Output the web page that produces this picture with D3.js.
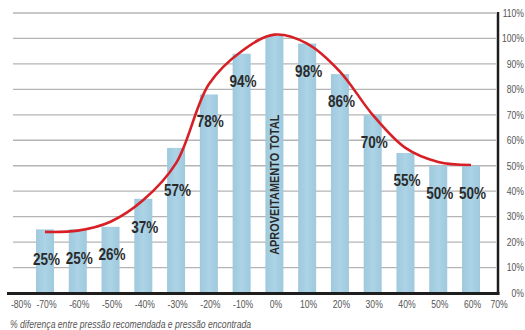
<!DOCTYPE html>
<html>
<head>
<meta charset="utf-8">
<script src="https://cdn.jsdelivr.net/npm/d3@7"></script>
<style>
  html, body { margin: 0; padding: 0; background: #fff; }
  svg { display: block; }
  text { font-family: "Liberation Sans", Arial, sans-serif; }
</style>
</head>
<body>
<svg id="chart" width="525" height="330"></svg>
<script>
// ---- data ----
const categories = [-70, -60, -50, -40, -30, -20, -10, 0, 10, 20, 30, 40, 50, 60];
const barValues  = [25, 25, 26, 37, 57, 78, 94, 101, 98, 86, 70, 55, 50, 50];
const barLabels  = ["25%", "25%", "26%", "37%", "57%", "78%", "94%", "", "98%", "86%", "70%", "55%", "50%", "50%"];
const curveValues = [24, 24.5, 28, 36.5, 51, 82, 95, 101.5, 98, 87, 70, 57, 51.5, 50.3];
const xTicks = [-80, -70, -60, -50, -40, -30, -20, -10, 0, 10, 20, 30, 40, 50, 60, 70];
const yTicks = [0, 10, 20, 30, 40, 50, 60, 70, 80, 90, 100, 110];
const specialLabel = "APROVEITAMENTO TOTAL";
const axisTitle = "% diferença entre pressão recomendada e pressão encontrada";

// ---- layout ----
const svg = d3.select("#chart");
const y = d3.scaleLinear().domain([0, 110]).range([293, 13]);
const x = d3.scaleLinear().domain([-80, -70, 60, 70]).range([19.5, 45, 471, 497.5]);
const barW = 18;
const squeeze = 0.82;   // condensed look
const fmt = d => d + "%";

// bar gradient
const defs = svg.append("defs");
const grad = defs.append("linearGradient").attr("id", "barGrad").attr("x1", "0").attr("x2", "1").attr("y1", "0").attr("y2", "0");
grad.append("stop").attr("offset", "0%").attr("stop-color", "#9fc9dd");
grad.append("stop").attr("offset", "50%").attr("stop-color", "#acd3e6");
grad.append("stop").attr("offset", "100%").attr("stop-color", "#9fc9dd");

// gridlines
svg.append("g").selectAll("line").data(yTicks.filter(d => d > 0)).join("line")
  .attr("x1", 13).attr("x2", 496)
  .attr("y1", d => y(d)).attr("y2", d => y(d))
  .attr("stroke", "#b4b4b4").attr("stroke-width", 1.3);

// bars
svg.append("g").selectAll("rect").data(categories).join("rect")
  .attr("x", (d) => x(d) - barW / 2)
  .attr("width", barW)
  .attr("y", (d, i) => y(barValues[i]))
  .attr("height", (d, i) => y(0) - y(barValues[i]))
  .attr("fill", "url(#barGrad)");

// curve
const line = d3.line()
  .x((d, i) => x(categories[i]))
  .y(d => y(d))
  .curve(d3.curveCatmullRom.alpha(0.5));
svg.append("path").datum(curveValues)
  .attr("d", line)
  .attr("fill", "none")
  .attr("stroke", "#d71f26")
  .attr("stroke-width", 2.6);

// baseline and right axis line
svg.append("line").attr("x1", 7).attr("x2", 499.5).attr("y1", y(0) + 0.5).attr("y2", y(0) + 0.5)
  .attr("stroke", "#1e1e1e").attr("stroke-width", 3);
svg.append("line").attr("x1", 498).attr("x2", 498).attr("y1", y(110) - 1).attr("y2", y(0) + 1)
  .attr("stroke", "#1e1e1e").attr("stroke-width", 2.5);

// value labels
svg.append("g").selectAll("text").data(categories).join("text")
  .attr("transform", (d, i) => `translate(${x(d) + 1.5},${y(Math.min(barValues[i], curveValues[i])) + 33}) scale(${squeeze},1)`)
  .attr("text-anchor", "middle")
  .attr("font-size", 16.5)
  .attr("font-weight", "bold")
  .attr("fill", "#2a2a2a")
  .text((d, i) => barLabels[i]);

// special rotated label in 0% bar
svg.append("text")
  .attr("transform", `translate(${x(0) + 5},${y(15)}) rotate(-90) scale(${squeeze},1)`)
  .attr("text-anchor", "start")
  .attr("font-size", 13.3)
  .attr("font-weight", "bold")
  .attr("fill", "#2a2a2a")
  .text(specialLabel);

// x tick labels
svg.append("g").selectAll("text").data(xTicks).join("text")
  .attr("transform", d => `translate(${x(d) + 1.5},308) scale(${squeeze},1)`)
  .attr("text-anchor", "middle")
  .attr("font-size", 10.5)
  .attr("fill", "#555")
  .text(fmt);

// y tick labels (right)
svg.append("g").selectAll("text").data(yTicks).join("text")
  .attr("transform", d => `translate(524,${y(d) + 3.8}) scale(${squeeze},1)`)
  .attr("text-anchor", "end")
  .attr("font-size", 10.5)
  .attr("fill", "#555")
  .text(fmt);

// axis title
svg.append("text")
  .attr("transform", `translate(10,328) scale(${squeeze},1)`)
  .attr("font-size", 10.5)
  .attr("font-style", "italic")
  .attr("fill", "#555")
  .text(axisTitle);
</script>
</body>
</html>
